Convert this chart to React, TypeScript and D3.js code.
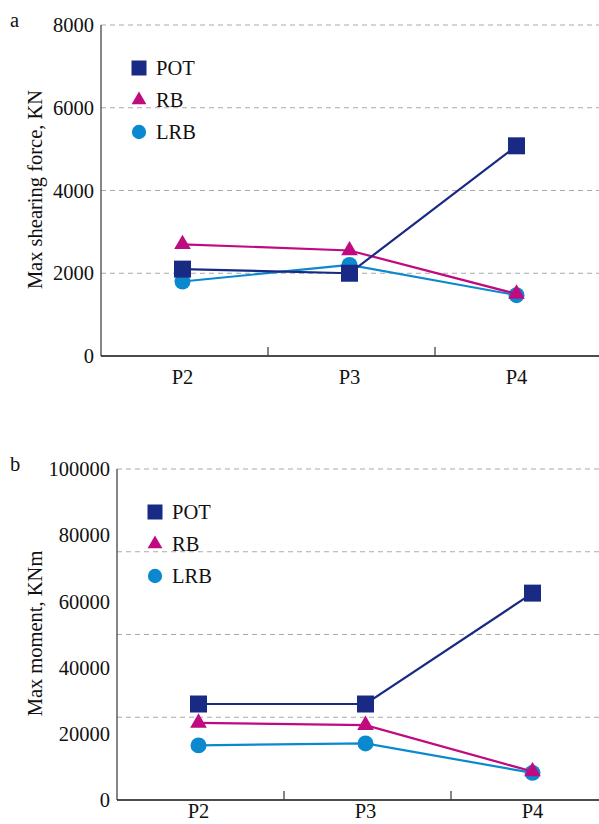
import * as d3 from "d3";
import { useEffect, useRef } from "react";

// categories shared by both panels
const piers = ["P2", "P3", "P4"];

// panel a: max shearing force (KN)
const shearPOT = [2100, 2000, 5080];
const shearRB = [2700, 2550, 1500];
const shearLRB = [1800, 2200, 1470];
const shearTicks = [0, 2000, 4000, 6000, 8000];
const shearGrid = [2000, 4000, 6000, 8000];

// panel b: max moment (KNm)
const momentPOT = [29000, 29000, 62500];
const momentRB = [23300, 22600, 8600];
const momentLRB = [16500, 17100, 8200];
const momentTicks = [0, 20000, 40000, 60000, 80000, 100000];
const momentGrid = [25000, 50000, 75000, 100000];

const seriesNames = ["POT", "RB", "LRB"];
const colors = { POT: "#182a84", RB: "#c00a80", LRB: "#0b89cf" };
const FONT = "'Liberation Serif', 'DejaVu Serif', serif";
const FS = 20.5;

const Panel = ({ letter, yLabel, pot, rb, lrb, ticks, grid, yMax, left, top, bottom, xLabGap }) => {
  const gRef = useRef(null);

  useEffect(() => {
    const g = d3.select(gRef.current);
    g.selectAll("*").remove();

    let x = d3.scaleBand().domain(piers).range([left, left + 501]);
    let y = d3.scaleLinear().domain([0, yMax]).range([bottom, top]);
    let right = 599;

    // dashed grid
    g.selectAll(".grid")
      .data(grid)
      .enter()
      .append("line")
      .attr("x1", left)
      .attr("x2", right)
      .attr("y1", (d) => y(d))
      .attr("y2", (d) => y(d))
      .attr("stroke", "#aaaaaa")
      .attr("stroke-width", 1)
      .attr("stroke-dasharray", "5,4");

    // axes lines
    g.append("line")
      .attr("x1", left).attr("x2", left)
      .attr("y1", top).attr("y2", bottom)
      .attr("stroke", "#444").attr("stroke-width", 1.3);
    g.append("line")
      .attr("x1", left).attr("x2", right)
      .attr("y1", bottom).attr("y2", bottom)
      .attr("stroke", "#111").attr("stroke-width", 1.3);

    // x ticks between categories
    g.selectAll(".xtick")
      .data(piers.slice(1))
      .enter()
      .append("line")
      .attr("x1", (d) => x(d))
      .attr("x2", (d) => x(d))
      .attr("y1", bottom)
      .attr("y2", bottom - 9)
      .attr("stroke", "#444")
      .attr("stroke-width", 1.3);

    g.selectAll(".xlab")
      .data(piers)
      .enter()
      .append("text")
      .attr("x", (d) => x(d) + x.bandwidth() / 2 - 2)
      .attr("y", bottom + xLabGap)
      .attr("text-anchor", "middle")
      .attr("font-size", FS)
      .text((d) => d);

    g.selectAll(".ylab")
      .data(ticks)
      .enter()
      .append("text")
      .attr("x", left - 7)
      .attr("y", (d) => y(d))
      .attr("dy", "0.35em")
      .attr("text-anchor", "end")
      .attr("font-size", FS)
      .text((d) => d);

    g.append("text")
      .attr("transform", "rotate(-90)")
      .attr("x", -(top + bottom) / 2 + 1)
      .attr("y", 42)
      .attr("text-anchor", "middle")
      .attr("font-size", FS)
      .text(yLabel);

    g.append("text")
      .attr("x", 10)
      .attr("y", top + 2)
      .attr("font-size", FS)
      .text(letter);

    let cx = (i) => x(piers[i]) + x.bandwidth() / 2 - 2;
    let line = d3.line().x((d, i) => cx(i)).y((d) => y(d));

    let series = [
      { name: "LRB", values: lrb, sym: d3.symbolCircle, size: 200 },
      { name: "RB", values: rb, sym: d3.symbolTriangle, size: 120 },
      { name: "POT", values: pot, sym: d3.symbolSquare, size: 289 },
    ];

    series.forEach((s) => {
      g.append("path")
        .attr("d", line(s.values))
        .attr("fill", "none")
        .attr("stroke", colors[s.name])
        .attr("stroke-width", 2.2);
      g.selectAll(".pt-" + s.name)
        .data(s.values)
        .enter()
        .append("path")
        .attr("transform", (d, i) => `translate(${cx(i)},${y(d)})`)
        .attr("d", d3.symbol().type(s.sym).size(s.size)())
        .attr("fill", colors[s.name]);
    });

    // legend
    let legendSyms = { POT: [d3.symbolSquare, 225], RB: [d3.symbolTriangle, 95], LRB: [d3.symbolCircle, 160] };
    seriesNames.forEach((name, i) => {
      let ly = top + 43 + i * 32;
      g.append("path")
        .attr("transform", `translate(${left + 38},${ly})`)
        .attr("d", d3.symbol().type(legendSyms[name][0]).size(legendSyms[name][1])())
        .attr("fill", colors[name]);
      g.append("text")
        .attr("x", left + 55)
        .attr("y", ly)
        .attr("dy", "0.35em")
        .attr("font-size", FS)
        .text(name);
    });
  }, []);

  return <g ref={gRef} fontFamily={FONT} fill="#111" />;
};

const App = () => {
  return (
    <div style={{ position: "absolute", left: 0, top: 0 }}>
      <svg width={599} height={824} style={{ display: "block", background: "#fff" }}>
        <Panel
          letter="a"
          yLabel="Max shearing force, KN"
          pot={shearPOT}
          rb={shearRB}
          lrb={shearLRB}
          ticks={shearTicks}
          grid={shearGrid}
          yMax={8000}
          left={101}
          top={25}
          bottom={356}
          xLabGap={28}
        />
        <Panel
          letter="b"
          yLabel="Max moment, KNm"
          pot={momentPOT}
          rb={momentRB}
          lrb={momentLRB}
          ticks={momentTicks}
          grid={momentGrid}
          yMax={100000}
          left={117}
          top={469}
          bottom={800}
          xLabGap={18}
        />
      </svg>
    </div>
  );
};

export default App;
